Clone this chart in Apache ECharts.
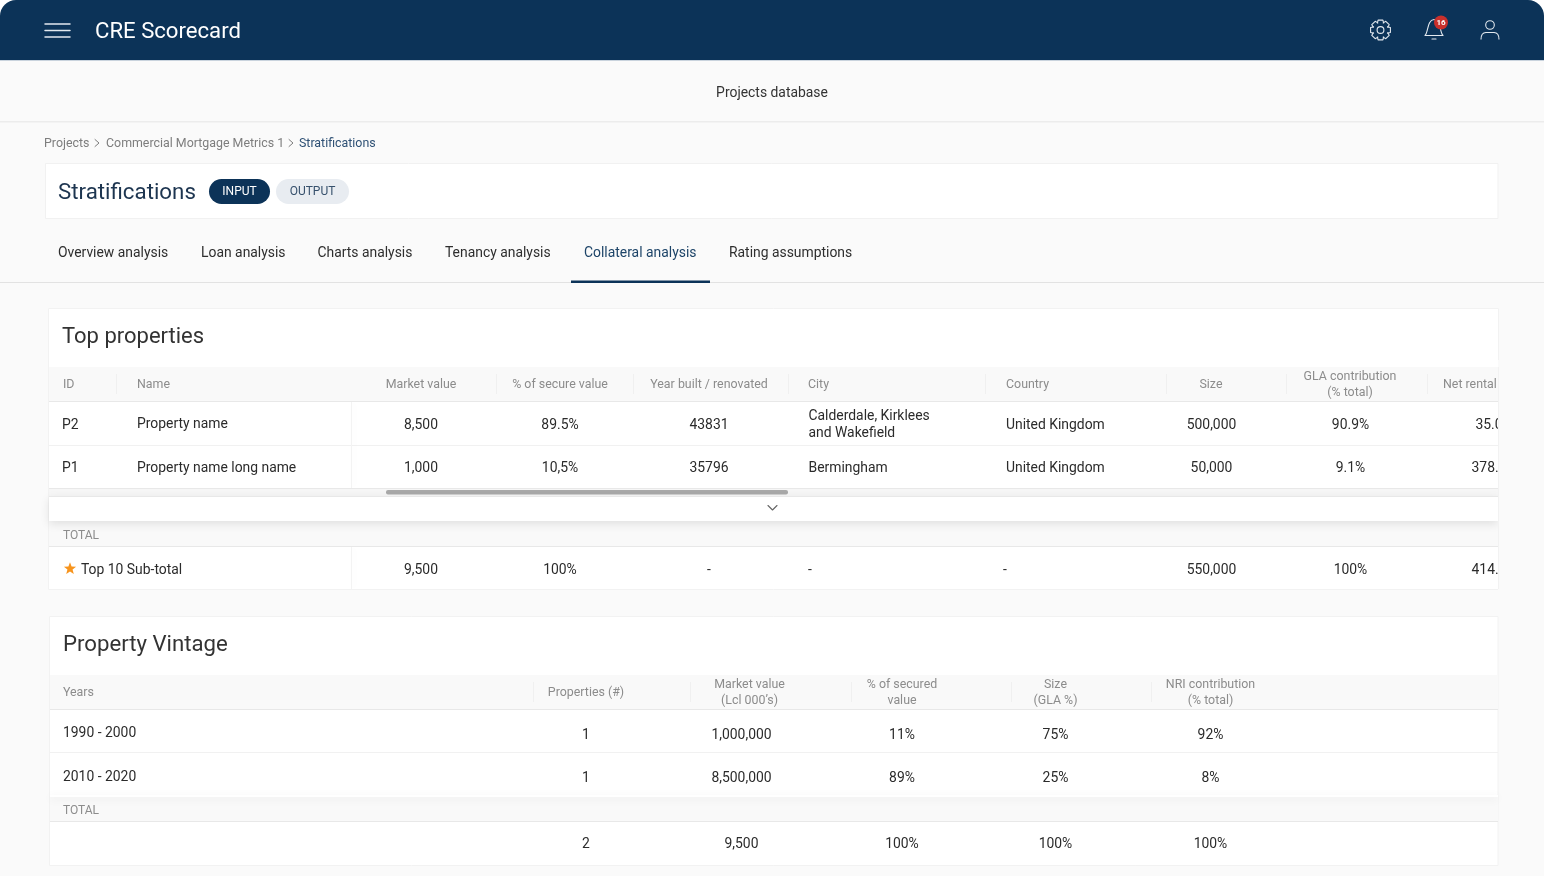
<!DOCTYPE html>
<html>
<head>
<meta charset="utf-8">
<title>CRE Scorecard</title>
<script src="https://cdn.jsdelivr.net/npm/echarts@6/dist/echarts.min.js"></script>
<style>
html,body{margin:0;padding:0;background:#fff}
#main{width:1544px;height:876px}
</style>
</head>
<body>
<div id="main"></div>
<script>
// top properties table
var topHeaders=['ID','Name','Market value','% of secure value','Year built / renovated','City','Country','Size','GLA contribution\n(% total)','Net rental'];
var topIds=['P2','P1'];
var topNames=['Property name','Property name long name'];
var topMarket=['8,500','1,000'];
var topSecure=['89.5%','10,5%'];
var topYear=['43831','35796'];
var topCity=['Calderdale, Kirklees\nand Wakefield','Bermingham'];
var topCountry=['United Kingdom','United Kingdom'];
var topSize=['500,000','50,000'];
var topGla=['90.9%','9.1%'];
var topRental=['35.0','378.0'];
var topTotal=['9,500','100%','-','-','-','550,000','100%','414.0'];
// property vintage table
var vintageHeaders=['Years','Properties (#)','Market value\n(Lcl 000’s)','% of secured\nvalue','Size\n(GLA %)','NRI contribution\n(% total)'];
var vintageYears=['1990 - 2000','2010 - 2020'];
var vintageCount=['1','1'];
var vintageMarket=['1,000,000','8,500,000'];
var vintageSecured=['11%','89%'];
var vintageSize=['75%','25%'];
var vintageNri=['92%','8%'];
var vintageTotal=['2','9,500','100%','100%','100%'];
// page chrome
var tabs=['Overview analysis','Loan analysis','Charts analysis','Tenancy analysis','Collateral analysis','Rating assumptions'];
var crumbs=['Projects','Commercial Mortgage Metrics 1','Stratifications'];

var navy='#0c3358',ink='#2b2b2b',grey='#8c8c8c',line='#ececec',band='#f9f9f9';
var font='Roboto';
var body=13.9,small=12.4;
var els=[];

function rect(x,y,w,h,fill,extra){
	var o={type:'rect',shape:{x:x,y:y,width:w,height:h,r:(extra&&extra.r)||0},style:{fill:fill}};
	if(extra&&extra.stroke){o.style.stroke=extra.stroke;o.style.lineWidth=1}
	if(extra&&extra.shadow){o.style.shadowBlur=extra.shadow;o.style.shadowColor='rgba(0,0,0,'+(extra.alpha||0.10)+')';o.style.shadowOffsetY=extra.dy||0;o.style.shadowOffsetX=extra.dx||0}
	els.push(o);
}
function txt(x,y,s,size,color,align,weight,lh){
	// canvas text sits higher than the css text in the reference
	els.push({type:'text',x:x,y:y+2.2,style:{text:s,fill:color||ink,font:(weight||400)+' '+size+'px '+font,textAlign:align||'left',textVerticalAlign:'middle',lineHeight:lh||17}});
}
function seg(pts,color,w){
	els.push({type:'polyline',shape:{points:pts},style:{stroke:color,lineWidth:w||1,fill:null,lineCap:'round',lineJoin:'round'}});
}
function hline(x1,x2,y,color){rect(x1,y,x2-x1,1,color||line)}
function vline(x,y1,y2,color){rect(x,y1,1,y2-y1,color||'#f0f0f0')}

// background and header bar
rect(0,0,1544,876,'#fafafa');
rect(0,0,1544,61,'#ffffff');
els.push({type:'rect',shape:{x:0,y:0,width:1544,height:60,r:[16,16,0,0]},style:{fill:navy}});
hline(0,1544,60,'#c9d3dd');
seg([[45,24],[70,24]],'#e3e9ef',1.5);
seg([[45,30.5],[70,30.5]],'#e3e9ef',1.5);
seg([[45,37],[70,37]],'#e3e9ef',1.5);
txt(95,30.5,'CRE Scorecard',22.15,'#ffffff');

// gear
var gear=[];
for(var i=0;i<8;i++){
	var a=i*Math.PI/4-Math.PI/2;
	var spread=[[-0.24,10.2],[0.24,10.2],[0.42,7.6]];
	gear.push([1380.5+7.6*Math.cos(a-0.42),30+7.6*Math.sin(a-0.42)]);
	for(var j=0;j<spread.length;j++){
		gear.push([1380.5+spread[j][1]*Math.cos(a+spread[j][0]),30+spread[j][1]*Math.sin(a+spread[j][0])]);
	}
}
els.push({type:'polygon',shape:{points:gear},style:{stroke:'#e3e9ef',lineWidth:1.1,fill:null,lineJoin:'round'}});
els.push({type:'circle',shape:{cx:1380.5,cy:30,r:3.4},style:{stroke:'#e3e9ef',lineWidth:1.1,fill:null}});
// bell
els.push({type:'bezierCurve',shape:{x1:1425,y1:35.5,cpx1:1428.5,cpy1:32,cpx2:1427,cpy2:20,x2:1434,y2:19.5},style:{stroke:'#e3e9ef',lineWidth:1.1,fill:null}});
els.push({type:'bezierCurve',shape:{x1:1443,y1:35.5,cpx1:1439.5,cpy1:32,cpx2:1441,cpy2:20,x2:1434,y2:19.5},style:{stroke:'#e3e9ef',lineWidth:1.1,fill:null}});
seg([[1425,35.5],[1443,35.5]],'#e3e9ef',1.1);
seg([[1432,39],[1436,39]],'#e3e9ef',1.1);
els.push({type:'circle',shape:{cx:1441,cy:22.5,r:7},style:{fill:'#c9302c'}});
txt(1441,20.8,'16',8,'#ffffff','center',700);
// user
els.push({type:'circle',shape:{cx:1490,cy:25,r:4.3},style:{stroke:'#e3e9ef',lineWidth:1.1,fill:null}});
els.push({type:'bezierCurve',shape:{x1:1481,y1:39.5,cpx1:1481,cpy1:35,cpx2:1483,cpy2:32.5,x2:1486,y2:32.5},style:{stroke:'#e3e9ef',lineWidth:1.1,fill:null}});
els.push({type:'bezierCurve',shape:{x1:1499,y1:39.5,cpx1:1499,cpy1:35,cpx2:1497,cpy2:32.5,x2:1494,y2:32.5},style:{stroke:'#e3e9ef',lineWidth:1.1,fill:null}});
seg([[1486,32.5],[1494,32.5]],'#e3e9ef',1.1);

// sub header
txt(772,91,'Projects database',body,'#333333','center');
rect(0,121,1544,1.5,'#ececec');

// breadcrumb
txt(44,142,crumbs[0],small,'#7d7d7d');
seg([[95,139.5],[99,143],[95,146.5]],'#7d7d7d',1);
txt(106,142,crumbs[1],small,'#7d7d7d');
seg([[289,139.5],[293,143],[289,146.5]],'#7d7d7d',1);
txt(299,142,crumbs[2],small,'#2f5175');

// title card
rect(45.5,163.5,1452.5,55,'#ffffff',{stroke:'#f1f1f1'});
txt(58,191,'Stratifications',22.3,'#1d3550');
rect(209,179,61,25,navy,{r:12.5});
txt(239.5,189.5,'INPUT',12,'#ffffff','center');
rect(276,179,73,25,'#e8ecf1',{r:12.5});
txt(312.5,189.5,'OUTPUT',12,'#36506c','center');

// tabs
var tabX=[58,201,317.5,445,584,729];
for(var i=0;i<tabs.length;i++){
	txt(tabX[i],251,tabs[i],body,i==4?'#1d4468':'#2e2e2e');
}
hline(0,1544,282,'#e2e2e2');
rect(571,280.5,139,2.5,navy);

// top properties card
rect(48.5,308.5,1450,281,'#ffffff',{stroke:'#f2f2f2'});
txt(62,335,'Top properties',22,'#333333');
rect(49,367,1449,34,band);
hline(49,1498,401,'#e8e8e8');
var topHeadX=[63,137,421,560,709,808,1006,1211,1350,1443];
var topHeadAlign=['left','left','center','center','center','left','left','center','center','left'];
for(var i=0;i<topHeaders.length;i++){
	txt(topHeadX[i],382.7,topHeaders[i],small,grey,topHeadAlign[i],400,16.5);
}
var topDiv=[116,496,633,788,985,1166,1286,1427];
for(var i=0;i<topDiv.length;i++){
	vline(topDiv[i],374,394);
}
var rowY=[423,466];
var nameY=[422,466];
for(var i=0;i<topIds.length;i++){
	txt(62,rowY[i],topIds[i],body);
	txt(137,nameY[i],topNames[i],body);
	txt(421,rowY[i],topMarket[i],body,ink,'center');
	txt(560,rowY[i],topSecure[i],body,ink,'center');
	txt(709,rowY[i],topYear[i],body,ink,'center');
	txt(808.5,rowY[i],topCity[i],body);
	txt(1006,rowY[i],topCountry[i],body);
	txt(1211.5,rowY[i],topSize[i],body,ink,'center');
	txt(1350.5,rowY[i],topGla[i],body,ink,'center');
	txt(1489,rowY[i],topRental[i],body,ink,'center');
}
hline(49,1498,445,'#f1f1f1');
hline(49,1498,488,'#e8e8e8');
rect(351,402,1,86,'#f3f3f3',{shadow:6,dx:2,alpha:0.05});
rect(49,489,1449,7,'#f6f6f6');
rect(386,490,402,4.5,'#a9a9a9',{r:2});
// total band goes first so the collapse bar shadow falls on it
rect(49,521,1449,25,band);
rect(49,496,1449,25,'#ffffff',{shadow:10,dy:3,alpha:0.10});
hline(49,1498,496,'#e8e8e8');
seg([[768,505.5],[772.5,510],[777,505.5]],'#666666',1.1);
txt(63,533.5,'TOTAL',12,grey);
hline(49,1498,546,'#e8e8e8');
// five pointed star
var star=[];
for(var i=0;i<10;i++){
	var sa=i*Math.PI/5-Math.PI/2,sr=i%2?2.7:6.4;
	star.push([70+sr*Math.cos(sa),568.7+sr*Math.sin(sa)]);
}
els.push({type:'polygon',shape:{points:star},style:{fill:'#f7941d'}});
txt(81,568,'Top 10 Sub-total',body);
rect(351,547,1,42,'#f3f3f3',{shadow:6,dx:2,alpha:0.05});
var totalX=[421,560,709,810,1005,1211.5,1350.5,1489];
for(var i=0;i<topTotal.length;i++){
	txt(totalX[i],568,topTotal[i],body,ink,'center');
}
// the table scrolls, so the last column is cut at the card edge
rect(1498,360,46,235,'#fafafa');
vline(1498,367,589,'#f2f2f2');

// property vintage card
rect(49.5,616.5,1448.5,249,'#ffffff',{stroke:'#f2f2f2'});
txt(63,643,'Property Vintage',22.2,'#333333');
rect(50,675,1448,34,band);
hline(50,1498,709,'#e8e8e8');
var vinHeadX=[63,586,749.5,902,1055.5,1210.5];
var vinHeadAlign=['left','center','center','center','center','center'];
for(var i=0;i<vintageHeaders.length;i++){
	txt(vinHeadX[i],690.7,vintageHeaders[i],small,grey,vinHeadAlign[i],400,16.5);
}
var vinDiv=[533,690,851,1011,1151];
for(var i=0;i<vinDiv.length;i++){
	vline(vinDiv[i],682,702);
}
var vinY=[733,776];
var vinYearY=[731.5,775];
for(var i=0;i<vintageYears.length;i++){
	txt(63,vinYearY[i],vintageYears[i],body);
	txt(586,vinY[i],vintageCount[i],body,ink,'center');
	txt(741.5,vinY[i],vintageMarket[i],body,ink,'center');
	txt(902,vinY[i],vintageSecured[i],body,ink,'center');
	txt(1055.5,vinY[i],vintageSize[i],body,ink,'center');
	txt(1210.5,vinY[i],vintageNri[i],body,ink,'center');
}
hline(50,1498,752,'#f1f1f1');
rect(50,797,1448,25,band);
rect(50,795,1448,2,'#ffffff',{shadow:8,dy:2,alpha:0.10});
txt(63,809,'TOTAL',12,grey);
hline(50,1498,821,'#e8e8e8');
var vinTotalX=[586,741.5,902,1055.5,1210.5];
for(var i=0;i<vintageTotal.length;i++){
	txt(vinTotalX[i],842,vintageTotal[i],body,ink,'center');
}

var chart=echarts.init(document.getElementById('main'));
var option={
	animation:false,
	graphic:{elements:els}
};
chart.setOption(option);
</script>
</body>
</html>
